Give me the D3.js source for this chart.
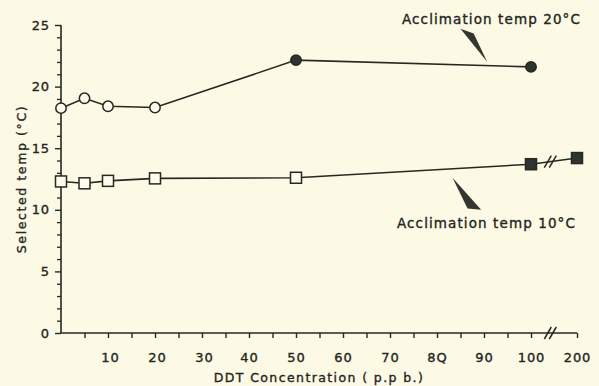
<!DOCTYPE html>
<html>
<head>
<meta charset="utf-8">
<script src="https://cdn.jsdelivr.net/npm/d3@7"></script>
<style>
  html, body { margin: 0; padding: 0; background: #fcf9e4; }
  svg { display: block; }
  text { font-family: "DejaVu Sans", sans-serif; fill: #23251f; stroke: #23251f; stroke-width: 0.35; }
</style>
</head>
<body>
<svg id="chart" width="599" height="386"></svg>
<script>
// DDT concentration (p.p.b.) tested for each acclimation group
const conc20 = [0, 5, 10, 20, 50, 100];
const temp20 = [18.25, 19.05, 18.4, 18.3, 22.15, 21.6];
const solid20 = [false, false, false, false, true, true];

const conc10 = [0, 5, 10, 20, 50, 100, 200];
const temp10 = [12.3, 12.15, 12.35, 12.55, 12.6, 13.7, 14.2];
const solid10 = [false, false, false, false, false, true, true];

const xTickValues = [5, 10, 15, 20, 25, 30, 35, 40, 45, 50, 55, 60, 65, 70, 75, 80, 85, 90, 95, 100, 200];
const xTickLabels = { 10: "10", 20: "20", 30: "30", 40: "40", 50: "50", 60: "60", 70: "70", 80: "8Q", 90: "90", 100: "100", 200: "200" };
const yMajor = [0, 5, 10, 15, 20, 25];
const yMinor = d3.range(0, 26, 1);

const ink = "#262822";
const svg = d3.select("#chart");

// broken x axis: 0-100 linear, then 100-200 squeezed into one step
const x = d3.scaleLinear().domain([0, 100, 200]).range([61, 531, 577]);
const y = d3.scaleLinear().domain([0, 25]).range([333, 25]);

// x axis
const xAxis = svg.append("g").attr("transform", `translate(0,${y(0)})`)
  .call(d3.axisBottom(x).tickValues(xTickValues).tickSize(5).tickPadding(15)
    .tickFormat(d => xTickLabels[d] || ""));
xAxis.select(".domain").remove();
xAxis.selectAll(".tick line").attr("stroke", ink).attr("stroke-width", 1.4);
xAxis.selectAll(".tick text").attr("font-size", 13).attr("letter-spacing", 0.9).attr("fill", ink)
  .attr("dx", d => d <= 30 ? 2 : 0);

const breakX = x(100) + 0.42 * (x(200) - x(100));
svg.append("line").attr("x1", x(0)).attr("x2", x(200)).attr("y1", y(0)).attr("y2", y(0))
  .attr("stroke", ink).attr("stroke-width", 1.6);

// y axis
const yAxisMinor = svg.append("g").attr("transform", `translate(${x(0)},0)`)
  .call(d3.axisLeft(y).tickValues(yMinor.filter(v => v % 5 !== 0)).tickSize(4).tickFormat(""));
yAxisMinor.select(".domain").remove();
yAxisMinor.selectAll(".tick line").attr("stroke", ink).attr("stroke-width", 1.3);

const yAxis = svg.append("g").attr("transform", `translate(${x(0)},0)`)
  .call(d3.axisLeft(y).tickValues(yMajor).tickSize(6).tickPadding(5).tickFormat(d3.format("d")));
yAxis.select(".domain").attr("stroke", ink).attr("stroke-width", 1.6).attr("d", `M0,${y(0)}V${y(25)}`);
yAxis.selectAll(".tick line").attr("stroke", ink).attr("stroke-width", 1.4);
yAxis.selectAll(".tick text").attr("font-size", 13).attr("letter-spacing", 0.9).attr("fill", ink);

// axis titles
svg.append("text").attr("x", 319).attr("y", 382).attr("text-anchor", "middle")
  .attr("font-size", 12.5).attr("letter-spacing", 1.4)
  .text("DDT Concentration ( p.p b.)");
svg.append("text").attr("transform", "translate(26,179) rotate(-90)").attr("text-anchor", "middle")
  .attr("font-size", 12.5).attr("letter-spacing", 1.6)
  .text("Selected temp (°C)");

// series lines
const line = d3.line().x(d => x(d[0])).y(d => y(d[1]));
const pts20 = conc20.map((c, i) => [c, temp20[i]]);
const pts10 = conc10.map((c, i) => [c, temp10[i]]);
svg.append("path").datum(pts20).attr("d", line).attr("fill", "none").attr("stroke", ink).attr("stroke-width", 1.6);
svg.append("path").datum(pts10).attr("d", line).attr("fill", "none").attr("stroke", ink).attr("stroke-width", 1.6);

// break marks on the axis and on the 10 °C line
function slashes(cx, cy) {
  [-2.5, 2.5].forEach(dx => {
    svg.append("line")
      .attr("x1", cx + dx - 3.5).attr("y1", cy + 6)
      .attr("x2", cx + dx + 3.5).attr("y2", cy - 6)
      .attr("stroke", ink).attr("stroke-width", 1.5);
  });
}
slashes(breakX, y(0));
const tBreak = temp10[5] + 0.42 * (temp10[6] - temp10[5]);
slashes(breakX, y(tBreak));

// markers
svg.selectAll("circle.m20").data(pts20).join("circle").attr("class", "m20")
  .attr("cx", d => x(d[0])).attr("cy", d => y(d[1])).attr("r", 5.2)
  .attr("fill", (d, i) => solid20[i] ? "#2f3430" : "#fdfbee")
  .attr("stroke", ink).attr("stroke-width", 1.5);
svg.selectAll("rect.m10").data(pts10).join("rect").attr("class", "m10")
  .attr("x", d => x(d[0]) - 5.5).attr("y", d => y(d[1]) - 5.5).attr("width", 11).attr("height", 11)
  .attr("fill", (d, i) => solid10[i] ? "#2f3430" : "#fdfbee")
  .attr("stroke", ink).attr("stroke-width", 1.5);

// annotations with wedge pointers
svg.append("text").attr("x", 402).attr("y", 24).attr("font-size", 13.5).attr("letter-spacing", 1.1)
  .text("Acclimation temp 20°C");
svg.append("path")
  .attr("d", `M${x(85)},${y(24.7)} L${x(87.8)},${y(24.3)} L${x(90.7)},${y(22.0)} Z`)
  .attr("fill", "#33372f");

svg.append("text").attr("x", 397).attr("y", 228).attr("font-size", 13.5).attr("letter-spacing", 1.1)
  .text("Acclimation temp 10°C");
svg.append("path")
  .attr("d", `M${x(83.3)},${y(12.6)} L${x(89.4)},${y(10.0)} L${x(86.5)},${y(10.1)} Z`)
  .attr("fill", "#33372f");
</script>
</body>
</html>
